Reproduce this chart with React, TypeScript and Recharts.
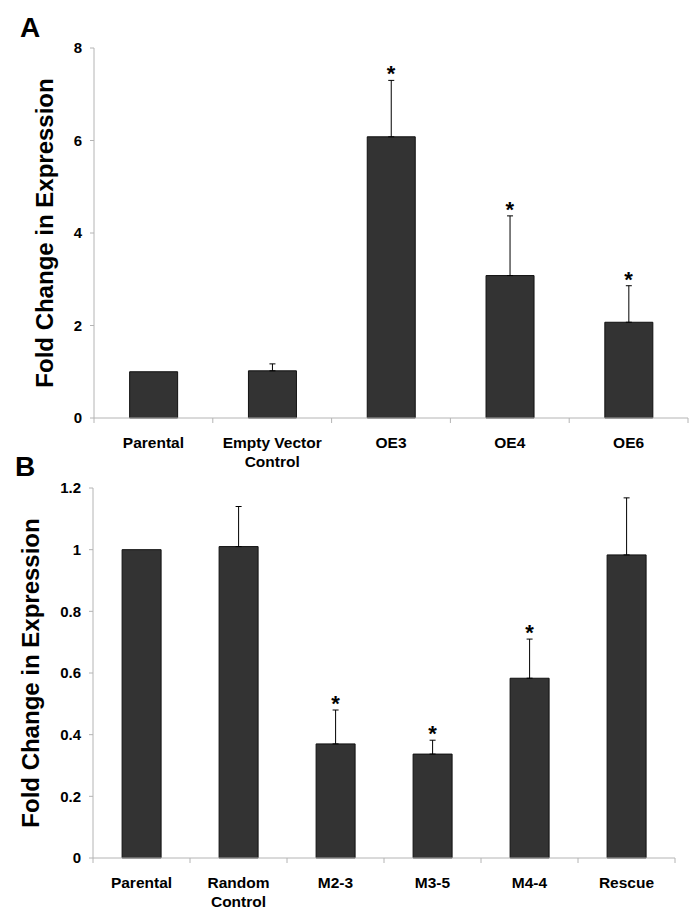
import { ComposedChart, Bar, ErrorBar, Scatter, XAxis, YAxis } from "recharts";

const FONT = '"Liberation Sans", Arial, sans-serif';
const AXIS = "#b4b4b4";

// panel A
const categoriesA = ["Parental", "Empty Vector\nControl", "OE3", "OE4", "OE6"];
const valuesA = [1.0, 1.02, 6.08, 3.08, 2.07];
const errorsA = [null, 0.15, 1.22, 1.29, 0.79];
const starsA = [false, false, true, true, true];
const ticksA = [0, 2, 4, 6, 8];

// panel B
const categoriesB = ["Parental", "Random\nControl", "M2-3", "M3-5", "M4-4", "Rescue"];
const valuesB = [1.0, 1.01, 0.37, 0.337, 0.583, 0.983];
const errorsB = [null, 0.13, 0.11, 0.045, 0.127, 0.185];
const starsB = [false, false, true, true, true, false];
const ticksB = [0, 0.2, 0.4, 0.6, 0.8, 1, 1.2];

const buildRows = (cats: string[], vals: number[], errs: (number | null)[], stars: boolean[]) =>
  cats.map((name, i) => ({
    name,
    value: vals[i],
    err: errs[i] == null ? null : [0, errs[i]],
    starY: vals[i] + (errs[i] ?? 0),
    star: stars[i],
  }));

const rowsA = buildRows(categoriesA, valuesA, errorsA, starsA);
const rowsB = buildRows(categoriesB, valuesB, errorsB, starsB);

const CatTick = (props: any) => {
  const { x, y, payload, index, visibleTicksCount } = props;
  const off = payload.offset ?? 0;
  const lines = String(payload.value).split("\n");
  return (
    <g>
      <line x1={x - off} x2={x - off} y1={y} y2={y + 5} stroke={AXIS} />
      {index === visibleTicksCount - 1 && (
        <line x1={x + off} x2={x + off} y1={y} y2={y + 5} stroke={AXIS} />
      )}
      <text x={x} y={y + 30} textAnchor="middle" fontFamily={FONT} fontWeight="bold" fontSize={15.5} fill="#000">
        {lines.map((l, i) => (
          <tspan key={i} x={x} dy={i === 0 ? 0 : 19}>
            {l}
          </tspan>
        ))}
      </text>
    </g>
  );
};

const YTitle = (props: any) => {
  const { viewBox, baseX } = props;
  const cy = viewBox.y + viewBox.height / 2;
  return (
    <text
      x={baseX}
      y={cy}
      transform={`rotate(-90, ${baseX}, ${cy})`}
      textAnchor="middle"
      fontFamily={FONT}
      fontWeight="bold"
      fontSize={24}
      fill="#000"
    >
      Fold Change in Expression
    </text>
  );
};

const Star = (props: any) => {
  const { cx, cy, payload } = props;
  if (!payload.star) return <g />;
  return (
    <text x={cx} y={cy + 1} textAnchor="middle" fontFamily={FONT} fontWeight="bold" fontSize={22} fill="#000">
      *
    </text>
  );
};

const Panel = (props: any) => {
  const { rows, ticks, domain, margin, yWidth, xHeight, titleX, height } = props;
  return (
    <ComposedChart width={697} height={height} data={rows} margin={margin} barCategoryGap="30%">
      <XAxis
        dataKey="name"
        interval={0}
        height={xHeight}
        stroke={AXIS}
        tickLine={false}
        tickSize={0}
        tickMargin={0}
        tick={<CatTick />}
      />
      <YAxis
        width={yWidth}
        domain={domain}
        ticks={ticks}
        stroke={AXIS}
        tickSize={4}
        tickMargin={8}
        tick={{ fill: "#000", fontFamily: FONT, fontWeight: "bold", fontSize: 15 }}
        label={<YTitle baseX={titleX} />}
      />
      <Bar dataKey="value" fill="#333333" stroke="#111111" strokeWidth={1} isAnimationActive={false}>
        <ErrorBar dataKey="err" direction="y" width={3} stroke="#000" strokeWidth={1} />
      </Bar>
      <Scatter dataKey="starY" shape={<Star />} isAnimationActive={false} />
    </ComposedChart>
  );
};

export default function App() {
  return (
    <div style={{ position: "absolute", left: 0, top: 0, width: 697, height: 920, background: "#fff" }}>
      <div style={{ position: "absolute", left: 0, top: 0 }}>
        <Panel
          rows={rowsA}
          ticks={ticksA}
          domain={[0, 8]}
          height={480}
          margin={{ top: 48, right: 9, bottom: 20, left: 0 }}
          yWidth={94}
          xHeight={42}
          titleX={53}
        />
      </div>
      <div style={{ position: "absolute", left: 0, top: 460 }}>
        <Panel
          rows={rowsB}
          ticks={ticksB}
          domain={[0, 1.2]}
          height={460}
          margin={{ top: 28, right: 22, bottom: 0, left: 0 }}
          yWidth={93}
          xHeight={62}
          titleX={39}
        />
      </div>
      <svg width={697} height={920} style={{ position: "absolute", left: 0, top: 0, pointerEvents: "none" }}>
        <text x={20} y={37} fontFamily={FONT} fontWeight="bold" fontSize={28} fill="#000">
          A
        </text>
        <text x={15} y={476} fontFamily={FONT} fontWeight="bold" fontSize={28} fill="#000">
          B
        </text>
      </svg>
    </div>
  );
}
